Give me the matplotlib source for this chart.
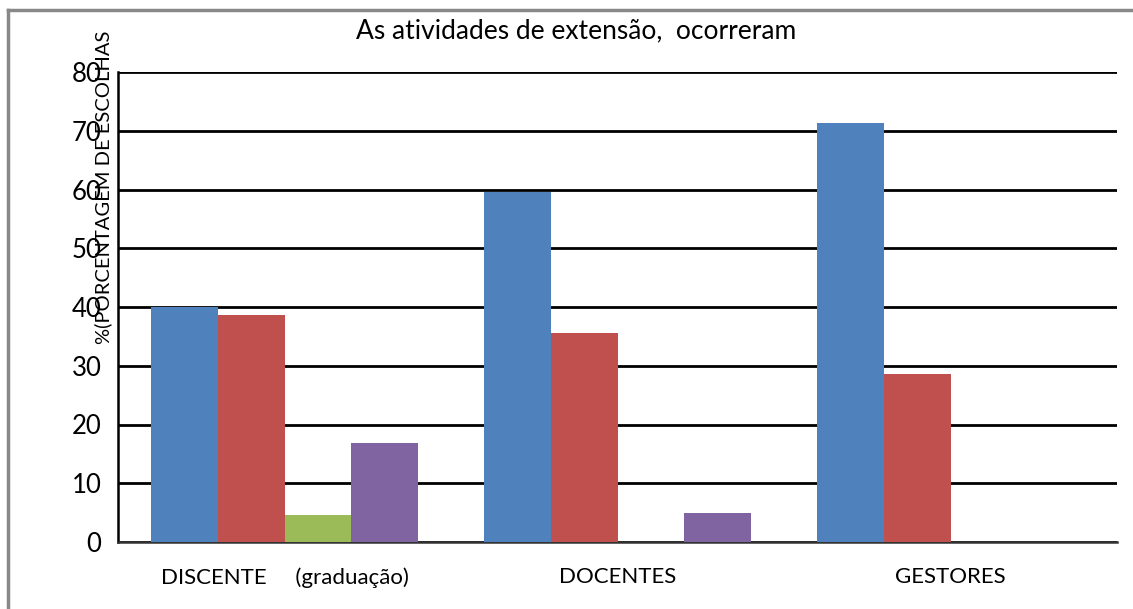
import matplotlib
matplotlib.use("Agg")
import matplotlib.pyplot as plt
import numpy as np
from matplotlib.lines import Line2D

categories = ["DISCENTE     (graduação)", "DOCENTES", "GESTORES"]
serie1 = [40.0, 59.6, 71.3]
serie2 = [38.6, 35.5, 28.6]
serie3 = [4.6, 0.0, 0.0]
serie4 = [16.8, 4.9, 0.0]
colors = ["#4F81BD", "#C0504D", "#9BBB59", "#8064A2"]
yticks = [0, 10, 20, 30, 40, 50, 60, 70, 80]
title = "As atividades de extensão,  ocorreram"
ylabel = "%(PORCENTAGEM DE ESCOLHAS"

plt.rcParams['font.family'] = ['Lato', 'DejaVu Sans']

W, H = 1133, 609
fig = plt.figure(figsize=(W / 100, H / 100), dpi=100)
ax = fig.add_axes([118 / W, 1 - 542 / H, (1117 - 118) / W, (542 - 72) / H])

x = np.arange(len(categories))
bw = 0.2
series = [serie1, serie2, serie3, serie4]
for i, (s, c) in enumerate(zip(series, colors)):
    ax.bar(x - 0.3 + i * bw, s, width=bw, color=c, zorder=3)

ax.set_xlim(-0.5, len(categories) - 0.5)
ax.set_ylim(0, 80)
ax.set_yticks(yticks)
ax.set_yticklabels([str(t) for t in yticks], fontsize=18.5)
ax.set_xticks(x)
ax.set_xticklabels(categories, fontsize=16)
ax.tick_params(axis='both', length=0)
ax.tick_params(axis='y', pad=12)
ax.tick_params(axis='x', pad=18)
ax.yaxis.grid(True, color='black', linewidth=2, zorder=1)
ax.set_axisbelow(True)
for sp in ['top', 'right']:
    ax.spines[sp].set_visible(False)
ax.spines['left'].set_linewidth(1.8)
ax.spines['bottom'].set_linewidth(1.8)
ax.spines['left'].set_color('black')
ax.spines['bottom'].set_color('#333333')

fig.text(576 / W, 1 - 31 / H, title, ha='center', va='center', fontsize=19)
fig.text(103 / W, 1 - 187 / H, ylabel, ha='center', va='center', rotation=90, fontsize=14.5)

# outer frame
fig.add_artist(Line2D([8 / W, 1.0], [1 - 10 / H, 1 - 10 / H], color='#888888', linewidth=2.5, transform=fig.transFigure))
fig.add_artist(Line2D([8 / W, 8 / W], [0, 1 - 10 / H], color='#888888', linewidth=2.5, transform=fig.transFigure))

fig.savefig("out.png", dpi=100)
